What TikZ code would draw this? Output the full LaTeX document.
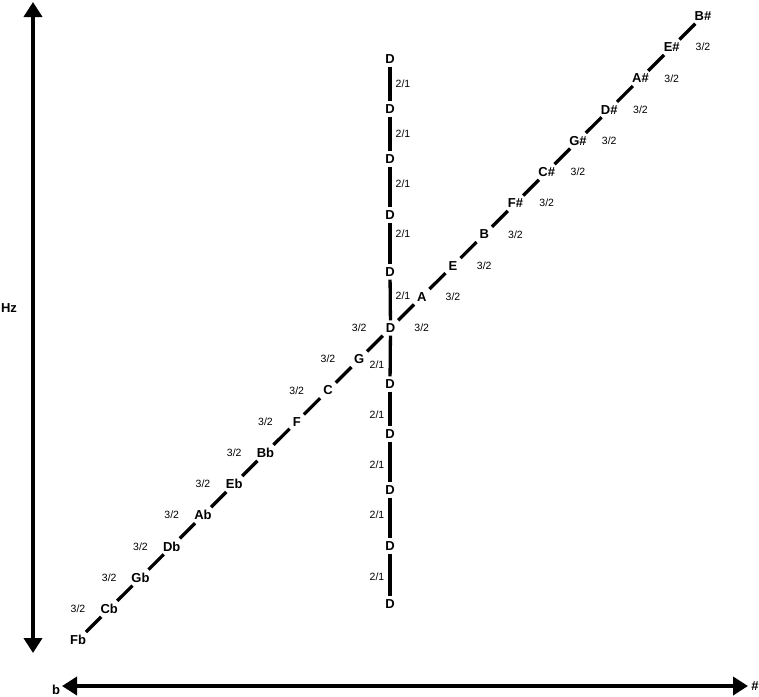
\documentclass[tikz,border=0pt]{standalone}
\usepackage{fontspec}
\setmainfont{Liberation Sans}
\usetikzlibrary{arrows.meta}
\begin{document}
\begin{tikzpicture}[x=1pt,y=-1pt,
  note/.style={font=\bfseries\fontsize{13}{13}\selectfont, inner sep=3pt},
  ratio/.style={font=\fontsize{10.5}{10.5}\selectfont, inner sep=0pt},
  seg/.style={line width=3.3pt},
  axis/.style={line width=4pt, {Triangle[length=15pt,width=18pt]}-{Triangle[length=15pt,width=18pt]}}]
\useasboundingbox (0,0) rectangle (759,696);
% axes
\coordinate (vtop) at (33,2);
\coordinate (vbot) at (33,653);
\coordinate (hl) at (62,686);
\coordinate (hr) at (748,686);
\draw[axis] (vtop) -- (vbot);
\draw[axis] (hl) -- (hr);
\node[note, inner sep=0pt] (hz) at (9,308) {Hz};
\node[note, inner sep=0pt] (flat) at (56,690) {b};
\node[note, inner sep=0pt] (sharp) at (755,686) {\#};
% diagonal notes
\foreach \n/\t [count=\i from 0] in {fb/Fb,cb/Cb,gb/Gb,db/Db,ab/Ab,eb/Eb,bb/Bb,f/F,c/C,g/G,d0/D,a/A,e/E,b/B,fs/F\#,cs/C\#,gs/G\#,ds/D\#,as/A\#,es/E\#,bs/B\#}
  \node[note] (\n) at ({78+31.25*\i},{640-31.2*\i}) {\t};
\foreach \p/\q in {fb/cb,cb/gb,gb/db,db/ab,ab/eb,eb/bb,bb/f,f/c,c/g,g/d0,d0/a,a/e,e/b,b/fs,fs/cs,cs/gs,gs/ds,ds/as,as/es,es/bs}
  \draw[seg] (\p) -- (\q);
% ratio labels on the diagonal
\foreach \i in {0,...,9}
  \node[ratio] (rl\i) at ({78+31.25*\i},{640-31.2*(\i+1)}) {3/2};
\foreach \i in {10,...,19}
  \node[ratio] (rr\i) at ({78+31.25*(\i+1)},{640-31.2*\i}) {3/2};
% vertical D column
\foreach \n/\y in {du5/59,du4/109,du3/159,du2/215,du1/272,dd1/384,dd2/434,dd3/490,dd4/546,dd5/604}
  \node[note] (\n) at (390,\y) {D};
\foreach \p/\q in {du5/du4,du4/du3,du3/du2,du2/du1,du1/d0,d0/dd1,dd1/dd2,dd2/dd3,dd3/dd4,dd4/dd5}
  \draw[seg] (\p) -- (\q);
\foreach \y [count=\k] in {84,134,184,234,296}
  \node[ratio] (ou\k) at (403,\y) {2/1};
\foreach \y [count=\k] in {365,415,465,515,577}
  \node[ratio] (od\k) at (377,\y) {2/1};
\end{tikzpicture}
\end{document}
